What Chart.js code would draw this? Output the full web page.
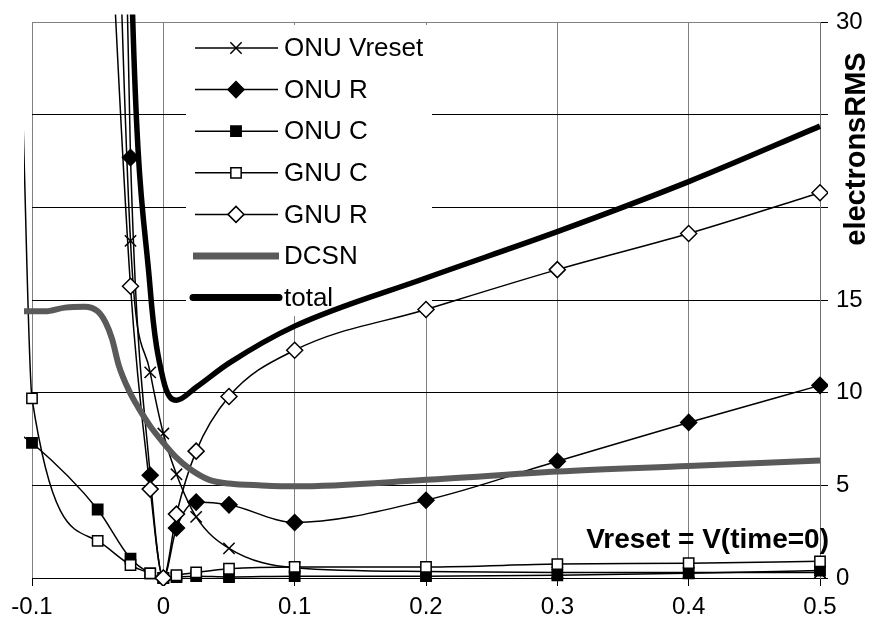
<!DOCTYPE html>
<html>
<head>
<meta charset="utf-8">
<script src="https://cdn.jsdelivr.net/npm/chart.js@4.4.0/dist/chart.umd.min.js"></script>
<style>
  html, body { margin: 0; padding: 0; background: #fff; }
  canvas { display: block; }
</style>
</head>
<body>
<canvas id="chart" width="870" height="631"></canvas>
<script>
// x values shared by the marker series (the first one sits just left of the plot, like in the original)
const xValues   = [-0.107, -0.1, -0.05, -0.025, -0.01, 0, 0.01, 0.025, 0.05, 0.1, 0.2, 0.3, 0.4, 0.5];
const onuVreset = [null, null, 80, 18.2, 11.1, 7.8, 5.6, 3.3, 1.6, 0.55, 0.35, 0.3, 0.3, 0.3];
const onuR      = [null, null, 110, 22.7, 5.55, 0, 2.7, 4.1, 3.95, 3.0, 4.2, 6.3, 8.4, 10.4];
const onuC      = [7.65, 7.3, 3.7, 1.05, 0.25, 0, 0.05, 0.1, 0.05, 0.1, 0.1, 0.15, 0.25, 0.4];
const gnuC      = [25, 9.7, 2.0, 0.7, 0.25, 0, 0.15, 0.3, 0.5, 0.6, 0.6, 0.75, 0.8, 0.9];
const gnuR      = [null, null, 50, 15.75, 4.8, 0, 3.45, 6.85, 9.8, 12.3, 14.5, 16.65, 18.6, 20.8];
const total     = [null, null, 150, 34.6, 15.6, 10.7, 9.6, 10.3, 11.6, 13.6, 16.2, 18.7, 21.4, 24.4];

// DCSN is a dense curve with no markers
const dcsnX = [-0.107, -0.09, -0.075, -0.06, -0.05, -0.044, -0.039, -0.034, -0.026, -0.019, -0.01, 0, 0.01, 0.02, 0.035, 0.05, 0.075, 0.1, 0.2, 0.3, 0.4, 0.5];
const dcsnY = [14.4, 14.4, 14.6, 14.65, 14.4, 13.8, 12.9, 11.5, 10.1, 9.2, 8.2, 7.3, 6.5, 5.9, 5.3, 5.1, 5.0, 4.95, 5.3, 5.75, 6.05, 6.35];

const xTickLabels = ['-0.1', '0', '0.1', '0.2', '0.3', '0.4', '0.5'];
// 20 and 25 are covered by the axis title in the original
const yTickLabels = ['0', '5', '10', '15', '', '', '30'];

const FONT = '"Liberation Sans", Arial, sans-serif';
Chart.defaults.font.family = FONT;
Chart.defaults.color = '#000';

function toPoints(xs, ys) {
  return xs.map((x, i) => ({ x: x, y: ys[i] })).filter(p => p.y !== null);
}

// no marker on the point outside the axis range
const markerSize = r => ctx => (ctx.raw && ctx.raw.x < -0.1) ? 0 : r;
const clipBox = { left: 8, top: 8, right: 8, bottom: 8 };

function markerSeries(label, ys, style, fill, r) {
  return {
    label: label,
    data: toPoints(xValues, ys),
    borderColor: '#000',
    borderWidth: 1.5,
    pointStyle: style,
    pointRadius: markerSize(r),
    pointBackgroundColor: fill,
    pointBorderColor: '#000',
    pointBorderWidth: 1.5,
    clip: clipBox
  };
}

const datasets = [
  markerSeries('ONU Vreset', onuVreset, 'crossRot', '#000', 8),
  markerSeries('ONU R', onuR, 'rectRot', '#000', 8),
  markerSeries('ONU C', onuC, 'rect', '#000', 7.3),
  markerSeries('GNU C', gnuC, 'rect', '#fff', 7.3),
  markerSeries('GNU R', gnuR, 'rectRot', '#fff', 8),
  {
    label: 'DCSN',
    data: toPoints(dcsnX, dcsnY),
    borderColor: '#5a5a5a',
    borderWidth: 6,
    pointRadius: 0,
    clip: clipBox
  },
  {
    label: 'total',
    data: toPoints(xValues, total),
    borderColor: '#000',
    borderWidth: 5.5,
    pointRadius: 0,
    clip: clipBox
  }
];
// Excel draws the later series on top
datasets.forEach((d, i) => { d.order = datasets.length - i; });

// legend inside the plot + the two free texts
const extras = {
  id: 'extras',
  beforeDatasetsDraw(chart) {
    const ctx = chart.ctx;
    ctx.save();
    ctx.fillStyle = '#fff';
    ctx.fillRect(186, 25, 246, 291);
    ctx.restore();
  },
  afterDatasetsDraw(chart) {
    const ctx = chart.ctx;
    ctx.save();
    chart.data.datasets.forEach((d, i) => {
      const y = 48 + i * 41.6;
      const thick = d.borderWidth > 3;
      ctx.strokeStyle = d.borderColor;
      ctx.lineWidth = thick ? 7 : d.borderWidth;
      ctx.lineCap = d.label === 'total' ? 'round' : 'butt';
      ctx.beginPath();
      ctx.moveTo(thick ? 193 : 195, y);
      ctx.lineTo(thick ? 279 : 278, y);
      ctx.stroke();
      if (!thick) {
        ctx.fillStyle = d.pointBackgroundColor;
        ctx.strokeStyle = '#000';
        ctx.lineWidth = 1.5;
        ctx.lineCap = 'butt';
        const r = d.pointStyle === 'rect' ? 7.3 : 8;
        Chart.helpers.drawPoint(ctx, { pointStyle: d.pointStyle, radius: r, rotation: 0, borderWidth: 1.5 }, 236, y);
      }
      ctx.fillStyle = '#000';
      ctx.font = '26px ' + FONT;
      ctx.textAlign = 'left';
      ctx.textBaseline = 'middle';
      ctx.fillText(d.label, 284, y + 1);
    });

    ctx.font = 'bold 28px ' + FONT;
    ctx.textAlign = 'right';
    ctx.textBaseline = 'middle';
    ctx.fillText('Vreset = V(time=0)', 829, 540);

    ctx.translate(857, 149);
    ctx.rotate(-Math.PI / 2);
    ctx.textAlign = 'center';
    ctx.font = 'bold 29px ' + FONT;
    ctx.fillText('electronsRMS', 0, 0);
    ctx.restore();
  }
};

new Chart(document.getElementById('chart'), {
  type: 'line',
  data: { datasets: datasets },
  plugins: [extras],
  options: {
    responsive: false,
    animation: false,
    events: [],
    layout: { padding: { left: 32, top: 16, right: 0, bottom: 0 } },
    elements: {
      line: { cubicInterpolationMode: 'monotone', fill: false }
    },
    plugins: {
      legend: { display: false },
      tooltip: { enabled: false }
    },
    scales: {
      x: {
        type: 'linear',
        min: -0.1,
        max: 0.5,
        ticks: {
          stepSize: 0.1,
          callback: (v, i) => xTickLabels[i],
          font: { size: 24 },
          padding: 7,
          maxRotation: 0
        },
        grid: { color: '#808080', lineWidth: 1, tickColor: '#000', tickLength: 8 },
        border: { color: '#000', width: 1 },
        afterFit: s => { s.height = 53; }
      },
      y: {
        position: 'right',
        min: 0,
        max: 30,
        ticks: {
          stepSize: 5,
          callback: (v, i) => yTickLabels[i],
          font: { size: 24 },
          padding: 8
        },
        grid: {
          color: ctx => (ctx.tick && ctx.tick.value === 30) ? '#808080' : '#000',
          lineWidth: 1,
          tickColor: '#000',
          tickLength: 8
        },
        border: { color: '#707070', width: 1 },
        afterFit: s => { s.width = 50; }
      }
    }
  }
});
</script>
</body>
</html>
